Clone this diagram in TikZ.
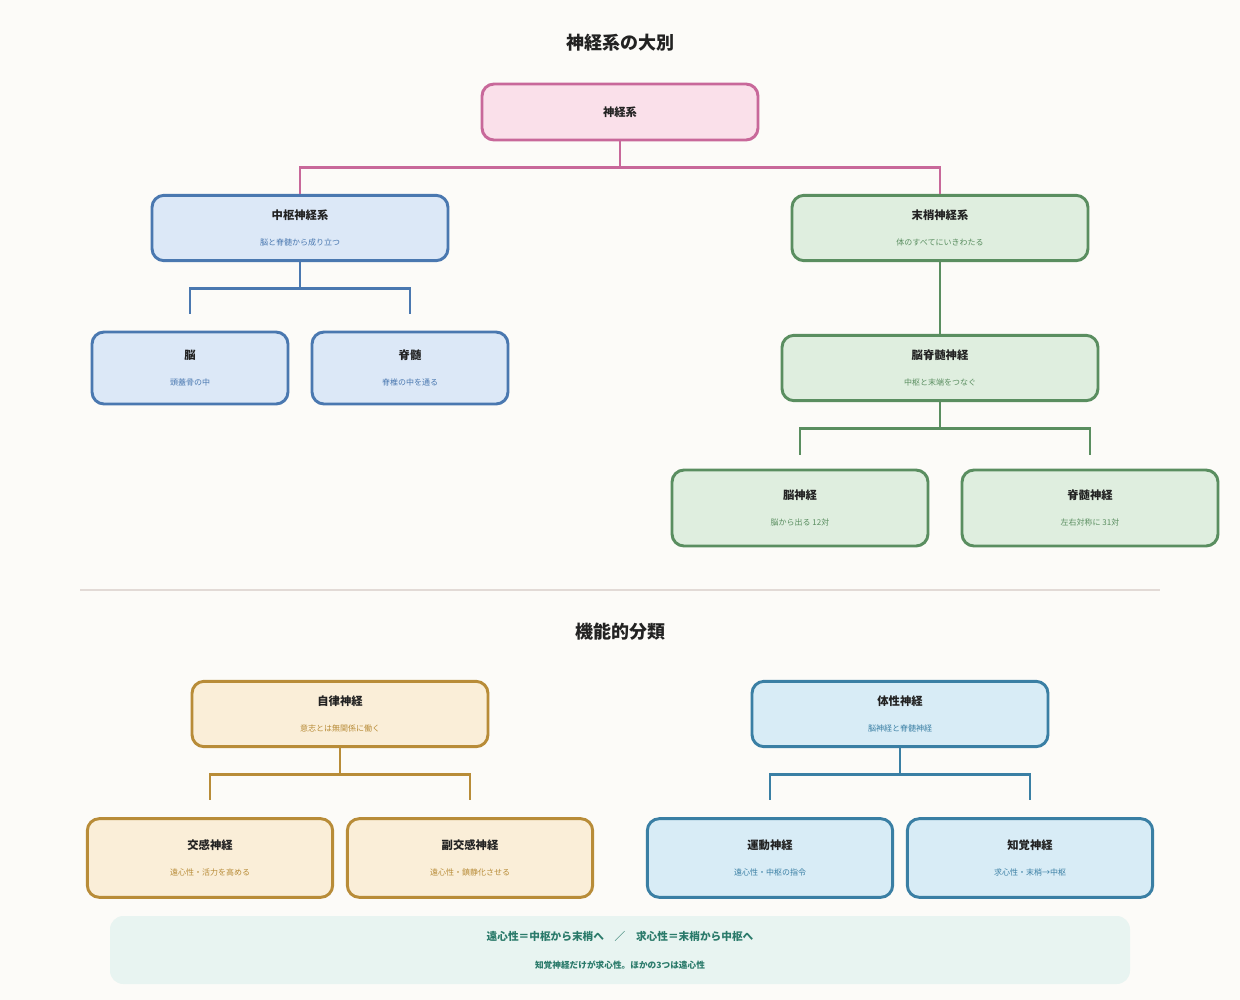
\documentclass[tikz,border=0pt]{standalone}
\usepackage{fontspec}
\setmainfont{Noto Sans CJK JP}
\usetikzlibrary{positioning}
\definecolor{bgc}{HTML}{FCFBF8}
\definecolor{pinkd}{HTML}{C8689A}\definecolor{pinkl}{HTML}{FAE0EA}
\definecolor{blued}{HTML}{4A78B0}\definecolor{bluel}{HTML}{DCE8F7}
\definecolor{greend}{HTML}{5A8E60}\definecolor{greenl}{HTML}{DFEEDF}
\definecolor{goldd}{HTML}{B88C38}\definecolor{goldl}{HTML}{FAEED8}
\definecolor{teald}{HTML}{3A7FA4}\definecolor{teall}{HTML}{D8ECF6}
\definecolor{noted}{HTML}{2A7A6A}\definecolor{notel}{HTML}{E8F4F1}
\definecolor{rulec}{HTML}{E2DAD6}
\definecolor{inkc}{HTML}{222222}
\tikzset{
  box/.style={draw=#1d, fill=#1l, line width=2.2pt, rounded corners=9pt,
    align=center, text=inkc, inner sep=0pt, font=\fontsize{8.5}{10}\selectfont\bfseries},
  link/.style={draw=#1d, line width=2.2pt},
  sub/.style={font=\fontsize{6}{7}\selectfont, text=#1d},
}
\newcommand{\twoline}[3]{#1\\[10pt]{\fontsize{6}{7}\selectfont\mdseries\color{#2d}#3}}
\begin{document}
\begin{tikzpicture}[x=0.75pt,y=-0.75pt]
\fill[bgc] (0,0) rectangle (1240,1000);
\useasboundingbox (0,0) rectangle (1240,1000);

%% titles
\node[font=\fontsize{13.5}{16}\selectfont\bfseries, text=inkc] (title1) at (620,43) {神経系の大別};
\node[font=\fontsize{13.5}{16}\selectfont\bfseries, text=inkc] (title2) at (620,632) {機能的分類};
\coordinate (ruleL) at (80,590);
\coordinate (ruleR) at (1160,590);
\draw[rulec, line width=1.3pt] (ruleL) -- (ruleR);

%% structural tree
\node[box=pink, minimum width=207pt, minimum height=42pt] (ns) at (620,112) {神経系};
\node[box=blue, minimum width=222pt, minimum height=49pt] (cns) at (300,228) {\twoline{中枢神経系}{blue}{脳と脊髄から成り立つ}};
\node[box=green, minimum width=222pt, minimum height=49pt] (pns) at (940,228) {\twoline{末梢神経系}{green}{体のすべてにいきわたる}};
\node[box=blue, minimum width=147pt, minimum height=54pt] (brain) at (190,368) {\twoline{脳}{blue}{頭蓋骨の中}};
\node[box=blue, minimum width=147pt, minimum height=54pt] (cord) at (410,368) {\twoline{脊髄}{blue}{脊椎の中を通る}};
\node[box=green, minimum width=237pt, minimum height=49pt] (csn) at (940,368) {\twoline{脳脊髄神経}{green}{中枢と末端をつなぐ}};
\node[box=green, minimum width=192pt, minimum height=57pt] (cran) at (800,508) {\twoline{脳神経}{green}{脳から出る 12対}};
\node[box=green, minimum width=192pt, minimum height=57pt] (spin) at (1090,508) {\twoline{脊髄神経}{green}{左右対称に 31対}};

\draw[link=pink] (ns.south) -- ++(0,26) -| (cns.north);
\draw[link=pink] (ns.south) -- ++(0,26) -| (pns.north);
\coordinate (brainT) at (190,314);
\coordinate (cordT) at (410,314);
\draw[link=blue] (cns.south) -- ++(0,26) -| (brainT);
\draw[link=blue] (cns.south) -- ++(0,26) -| (cordT);
\draw[link=green] (pns) -- (csn);
\coordinate (cranT) at (800,455);
\coordinate (spinT) at (1090,455);
\draw[link=green] (csn.south) -- ++(0,26) -| (cranT);
\draw[link=green] (csn.south) -- ++(0,26) -| (spinT);

%% functional tree
\node[box=gold, minimum width=222pt, minimum height=49pt] (auto) at (340,714) {\twoline{自律神経}{gold}{意志とは無関係に働く}};
\node[box=teal, minimum width=222pt, minimum height=49pt] (soma) at (900,714) {\twoline{体性神経}{teal}{脳神経と脊髄神経}};
\node[box=gold, minimum width=184pt, minimum height=59pt] (symp) at (210,858) {\twoline{交感神経}{gold}{遠心性・活力を高める}};
\node[box=gold, minimum width=184pt, minimum height=59pt] (para) at (470,858) {\twoline{副交感神経}{gold}{遠心性・鎮静化させる}};
\node[box=teal, minimum width=184pt, minimum height=59pt] (motor) at (770,858) {\twoline{運動神経}{teal}{遠心性・中枢の指令}};
\node[box=teal, minimum width=184pt, minimum height=59pt] (sens) at (1030,858) {\twoline{知覚神経}{teal}{求心性・末梢→中枢}};

\coordinate (sympT) at (210,800);
\coordinate (paraT) at (470,800);
\coordinate (motorT) at (770,800);
\coordinate (sensT) at (1030,800);
\draw[link=gold] (auto.south) -- ++(0,26) -| (sympT);
\draw[link=gold] (auto.south) -- ++(0,26) -| (paraT);
\draw[link=teal] (soma.south) -- ++(0,26) -| (motorT);
\draw[link=teal] (soma.south) -- ++(0,26) -| (sensT);

%% note
\node[fill=notel, rounded corners=10pt, minimum width=765pt, minimum height=51pt, inner sep=0pt,
  align=center, text=noted, font=\bfseries] (note) at (620,950)
  {{\fontsize{8}{10}\selectfont 遠心性＝中枢から末梢へ\quad ／\quad 求心性＝末梢から中枢へ}\\[9pt]
   {\fontsize{6.5}{8}\selectfont 知覚神経だけが求心性。ほかの3つは遠心性}};
\end{tikzpicture}
\end{document}
